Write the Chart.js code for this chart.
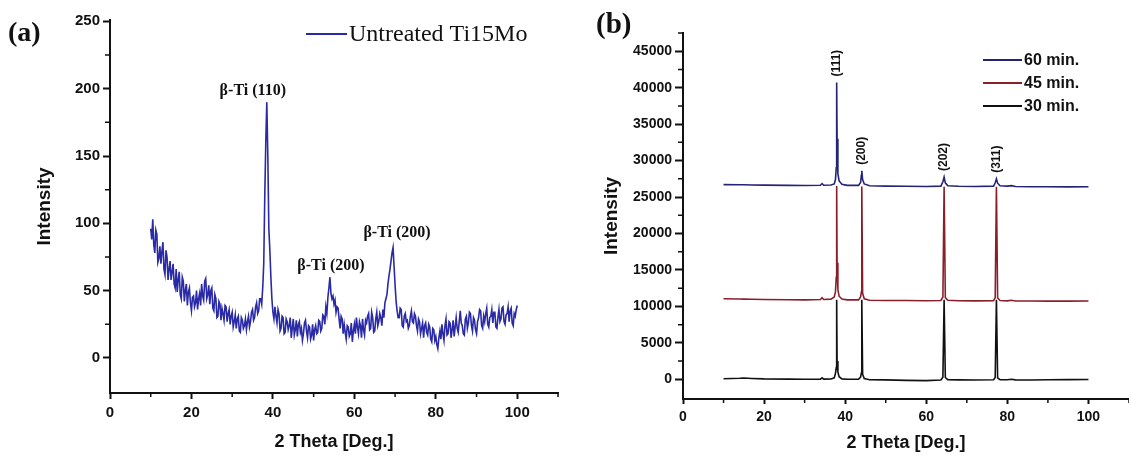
<!DOCTYPE html>
<html>
<head>
<meta charset="utf-8">
<title>XRD patterns of Ti15Mo</title>
<script src="https://cdn.jsdelivr.net/npm/chart.js@4.4.1/dist/chart.umd.min.js"></script>
<style>
  html, body { margin: 0; padding: 0; background: #fff; }
  #wrap { position: relative; width: 1129px; height: 459px; }
  #chartA { position: absolute; left: 0; top: 0; }
  #chartB { position: absolute; left: 565px; top: 0; }
</style>
</head>
<body>
<div id="wrap">
  <canvas id="chartA" width="565" height="459"></canvas>
  <canvas id="chartB" width="564" height="459"></canvas>
</div>
<script>
// ---- (a) untreated Ti15Mo, scanned every 0.25 deg ----
const anglesA = [
  10, 10.25, 10.5, 10.75, 11, 11.25, 11.5, 11.75, 12, 12.25, 12.5, 12.75, 13, 13.25, 13.5, 13.75, 14, 14.25, 14.5, 14.75,
  15, 15.25, 15.5, 15.75, 16, 16.25, 16.5, 16.75, 17, 17.25, 17.5, 17.75, 18, 18.25, 18.5, 18.75, 19, 19.25, 19.5, 19.75,
  20, 20.25, 20.5, 20.75, 21, 21.25, 21.5, 21.75, 22, 22.25, 22.5, 22.75, 23, 23.25, 23.5, 23.75, 24, 24.25, 24.5, 24.75,
  25, 25.25, 25.5, 25.75, 26, 26.25, 26.5, 26.75, 27, 27.25, 27.5, 27.75, 28, 28.25, 28.5, 28.75, 29, 29.25, 29.5, 29.75,
  30, 30.25, 30.5, 30.75, 31, 31.25, 31.5, 31.75, 32, 32.25, 32.5, 32.75, 33, 33.25, 33.5, 33.75, 34, 34.25, 34.5, 34.75,
  35, 35.25, 35.5, 35.75, 36, 36.25, 36.5, 36.75, 37, 37.25, 37.5, 37.75, 38, 38.25, 38.5, 38.75, 39, 39.25, 39.5, 39.75,
  40, 40.25, 40.5, 40.75, 41, 41.25, 41.5, 41.75, 42, 42.25, 42.5, 42.75, 43, 43.25, 43.5, 43.75, 44, 44.25, 44.5, 44.75,
  45, 45.25, 45.5, 45.75, 46, 46.25, 46.5, 46.75, 47, 47.25, 47.5, 47.75, 48, 48.25, 48.5, 48.75, 49, 49.25, 49.5, 49.75,
  50, 50.25, 50.5, 50.75, 51, 51.25, 51.5, 51.75, 52, 52.25, 52.5, 52.75, 53, 53.25, 53.5, 53.75, 54, 54.25, 54.5, 54.75,
  55, 55.25, 55.5, 55.75, 56, 56.25, 56.5, 56.75, 57, 57.25, 57.5, 57.75, 58, 58.25, 58.5, 58.75, 59, 59.25, 59.5, 59.75,
  60, 60.25, 60.5, 60.75, 61, 61.25, 61.5, 61.75, 62, 62.25, 62.5, 62.75, 63, 63.25, 63.5, 63.75, 64, 64.25, 64.5, 64.75,
  65, 65.25, 65.5, 65.75, 66, 66.25, 66.5, 66.75, 67, 67.25, 67.5, 67.75, 68, 68.25, 68.5, 68.75, 69, 69.25, 69.5, 69.75,
  70, 70.25, 70.5, 70.75, 71, 71.25, 71.5, 71.75, 72, 72.25, 72.5, 72.75, 73, 73.25, 73.5, 73.75, 74, 74.25, 74.5, 74.75,
  75, 75.25, 75.5, 75.75, 76, 76.25, 76.5, 76.75, 77, 77.25, 77.5, 77.75, 78, 78.25, 78.5, 78.75, 79, 79.25, 79.5, 79.75,
  80, 80.25, 80.5, 80.75, 81, 81.25, 81.5, 81.75, 82, 82.25, 82.5, 82.75, 83, 83.25, 83.5, 83.75, 84, 84.25, 84.5, 84.75,
  85, 85.25, 85.5, 85.75, 86, 86.25, 86.5, 86.75, 87, 87.25, 87.5, 87.75, 88, 88.25, 88.5, 88.75, 89, 89.25, 89.5, 89.75,
  90, 90.25, 90.5, 90.75, 91, 91.25, 91.5, 91.75, 92, 92.25, 92.5, 92.75, 93, 93.25, 93.5, 93.75, 94, 94.25, 94.5, 94.75,
  95, 95.25, 95.5, 95.75, 96, 96.25, 96.5, 96.75, 97, 97.25, 97.5, 97.75, 98, 98.25, 98.5, 98.75, 99, 99.25, 99.5, 99.75,
  100
];
const intensityA = [
  96, 88, 103, 84, 78, 95, 92, 71, 74, 83, 70, 79, 86, 66, 62, 80, 75, 58, 66, 72,
  58, 64, 70, 55, 52, 66, 49, 58, 64, 47, 44, 60, 57, 42, 50, 55, 39, 49, 52, 41,
  35, 45, 46, 38, 41, 50, 36, 44, 48, 39, 55, 46, 43, 57, 59, 44, 47, 54, 40, 50,
  52, 37, 35, 47, 44, 30, 31, 42, 40, 28, 37, 33, 28, 39, 38, 27, 33, 36, 25, 31,
  34, 23, 27, 32, 22, 29, 31, 20, 19, 30, 28, 22, 24, 29, 21, 27, 31, 23, 27, 34,
  36, 28, 30, 38, 41, 33, 35, 44, 44, 40, 52, 70, 120, 160, 190, 150, 96, 80, 60, 44,
  34, 29, 38, 31, 26, 36, 33, 20, 22, 31, 30, 18, 19, 29, 27, 21, 24, 30, 15, 22,
  29, 17, 21, 28, 16, 25, 27, 19, 22, 13, 18, 26, 28, 20, 15, 24, 23, 14, 17, 25,
  13, 21, 24, 18, 19, 28, 27, 20, 22, 32, 31, 25, 38, 33, 45, 52, 60, 48, 44, 46,
  40, 43, 34, 38, 37, 29, 22, 31, 29, 18, 25, 19, 14, 24, 23, 16, 18, 26, 12, 20,
  25, 18, 30, 23, 18, 27, 24, 15, 29, 21, 17, 28, 26, 31, 33, 21, 22, 34, 30, 19,
  20, 29, 34, 24, 27, 33, 30, 24, 36, 30, 41, 44, 47, 55, 61, 66, 72, 78, 82, 68,
  54, 42, 35, 30, 30, 37, 36, 24, 23, 31, 33, 27, 28, 22, 24, 31, 35, 27, 26, 33,
  31, 24, 20, 29, 27, 18, 22, 26, 15, 24, 26, 19, 17, 25, 23, 14, 12, 22, 21, 13,
  16, 10, 7, 15, 20, 14, 25, 18, 13, 24, 29, 17, 18, 27, 26, 15, 21, 28, 16, 23,
  30, 22, 19, 27, 35, 26, 24, 18, 17, 29, 31, 22, 26, 34, 33, 24, 20, 30, 28, 21,
  18, 27, 30, 36, 35, 24, 22, 31, 27, 33, 37, 25, 23, 30, 31, 36, 26, 34, 34, 23,
  22, 30, 36, 27, 29, 37, 38, 27, 25, 32, 33, 38, 27, 35, 37, 26, 24, 33, 31, 36,
  39
];
const seriesNameA = 'Untreated Ti15Mo';
const peakNamesA = ['β-Ti (110)', 'β-Ti (200)', 'β-Ti (200)'];
const peakAnglesA = [38.5, 54, 69.5];
const peakHeightsA = [190, 60, 82];
const yTicksA = [0, 50, 100, 150, 200, 250];

// ---- (b) treated samples, 60 / 45 / 30 min ----
const anglesB = [
  10, 14, 15, 17, 20, 26, 30, 33.9, 34.3, 34.7,
  36.5, 37.3, 37.6, 37.8, 37.9, 38.0, 38.2, 38.5, 39.2, 40.5,
  43.3, 43.8, 44.0, 44.1, 44.3, 44.7, 46, 50, 55, 60,
  63.6, 64.1, 64.4, 64.7, 65.3, 68, 72, 76.6, 77.0, 77.3,
  77.6, 78.2, 80, 81, 82, 86, 90, 95, 100
];
const int60 = [
  26700, 26680, 26690, 26660, 26640, 26600, 26580, 26620, 26850, 26620,
  26650, 26800, 27400, 29000, 40700, 33000, 28200, 27200, 26750, 26600,
  26600, 27000, 28000, 28600, 27400, 26800, 26550, 26500, 26480, 26450,
  26500, 27100, 27750, 26950, 26550, 26480, 26450, 26500, 26950, 27500,
  26900, 26550, 26500, 26560, 26450, 26420, 26420, 26400, 26420
];
const int45 = [
  11050, 11020, 11000, 10980, 10950, 10920, 10900, 10950, 11200, 10950,
  11000, 11300, 12000, 14000, 26500, 16000, 12300, 11400, 11000, 10900,
  10900, 11300, 12000, 26450, 11800, 11050, 10850, 10820, 10800, 10780,
  10820, 11300, 26400, 11200, 10850, 10780, 10760, 10780, 11200, 26400,
  11150, 10800, 10760, 10850, 10750, 10740, 10730, 10720, 10750
];
const int30 = [
  80, 150, 180, 120, 60, 20, 0, 30, 200, 30,
  50, 200, 800, 1600, 10900, 2500, 1000, 350, 60, 0,
  0, 300, 900, 10900, 700, 100, -50, -80, -150, -180,
  -100, 300, 10900, 250, -50, -80, -100, -60, 250, 10900,
  200, -40, -60, 0, -80, -100, -60, -40, -20
];
const seriesNamesB = ['60 min.', '45 min.', '30 min.'];
const peakNamesB = ['(111)', '(200)', '(202)', '(311)'];
const peakAnglesB = [37.9, 44.1, 64.4, 77.3];
const peakHeightsB = [40700, 28600, 27750, 27500];
const yTicksB = [0, 5000, 10000, 15000, 20000, 25000, 30000, 35000, 40000, 45000];

const xTicks = [0, 20, 40, 60, 80, 100];

const ink = '#111';
const sans = "'Liberation Sans', Arial, sans-serif";
const serif = "'Liberation Serif', 'Times New Roman', serif";
const colorsB = ['#232378', '#8a1f2c', '#111111'];

function points(xs, ys) {
  return xs.map((x, i) => ({ x: x, y: ys[i] }));
}

// short unlabelled ticks half way between the numbered ones
const minorTicks = {
  id: 'minorTicks',
  afterDraw(chart, args, opts) {
    const { ctx, scales: { x, y } } = chart;
    ctx.save();
    ctx.strokeStyle = ink;
    ctx.lineWidth = 1.5;
    ctx.beginPath();
    for (let v = opts.xFirst; v <= x.max; v += opts.xStep) {
      const px = x.getPixelForValue(v);
      ctx.moveTo(px, x.top);
      ctx.lineTo(px, x.top + 4);
    }
    for (let v = opts.yFirst; v <= y.max; v += opts.yStep) {
      const py = y.getPixelForValue(v);
      ctx.moveTo(y.right, py);
      ctx.lineTo(y.right - 5, py);
    }
    ctx.stroke();
    ctx.restore();
  }
};

// panel letter, legend and peak names for (a)
const decorA = {
  id: 'decorA',
  afterDraw(chart) {
    const { ctx, scales: { x, y } } = chart;
    const ds = chart.data.datasets[0];
    ctx.save();
    ctx.fillStyle = ink;
    ctx.textBaseline = 'middle';
    ctx.font = 'bold 28px ' + serif;
    ctx.fillText('(a)', 8, 34);

    ctx.strokeStyle = ds.borderColor;
    ctx.lineWidth = 2;
    ctx.beginPath();
    ctx.moveTo(306, 34);
    ctx.lineTo(347, 34);
    ctx.stroke();
    ctx.font = '24px ' + serif;
    ctx.fillText(ds.label, 349, 35);

    const shift = [-14, 1, 4];
    const lift = [3, 3, 7];
    ctx.font = 'bold 16px ' + serif;
    ctx.textAlign = 'center';
    ctx.textBaseline = 'bottom';
    peakNamesA.forEach((name, i) => {
      const px = x.getPixelForValue(peakAnglesA[i]) + shift[i];
      const py = y.getPixelForValue(peakHeightsA[i]) - lift[i];
      ctx.fillText(name, px, py);
    });
    ctx.restore();
  }
};

// panel letter, legend and rotated reflection indices for (b)
const decorB = {
  id: 'decorB',
  afterDraw(chart) {
    const { ctx, scales: { x, y } } = chart;
    ctx.save();
    ctx.fillStyle = ink;
    ctx.textBaseline = 'middle';
    ctx.font = 'bold 29px ' + serif;
    ctx.fillText('(b)', 31, 26);

    ctx.font = 'bold 16px ' + sans;
    chart.data.datasets.forEach((ds, i) => {
      const ly = 60 + i * 23;
      ctx.strokeStyle = ds.borderColor;
      ctx.lineWidth = 2;
      ctx.beginPath();
      ctx.moveTo(418, ly);
      ctx.lineTo(457, ly);
      ctx.stroke();
      ctx.fillText(ds.label, 459, ly + 1);
    });

    ctx.font = 'bold 12px ' + sans;
    ctx.textAlign = 'left';
    peakNamesB.forEach((name, i) => {
      const px = x.getPixelForValue(peakAnglesB[i]);
      const py = y.getPixelForValue(peakHeightsB[i]) - 6;
      ctx.save();
      ctx.translate(px, py);
      ctx.rotate(-Math.PI / 2);
      ctx.fillText(name, 0, 0);
      ctx.restore();
    });
    ctx.restore();
  }
};

function axes(o) {
  return {
    x: {
      type: 'linear',
      min: 0,
      max: 110,
      afterFit: s => { s.height = o.xHeight; },
      afterBuildTicks: s => { s.ticks = xTicks.map(v => ({ value: v })); },
      border: { display: true, color: ink, width: 2 },
      grid: { drawOnChartArea: false, drawTicks: true, tickLength: o.xTickLen, tickWidth: 2, tickColor: ink },
      ticks: { color: ink, padding: o.xPad, maxRotation: 0, autoSkip: false,
               callback: v => String(v),
               font: { family: sans, size: o.tickSize, weight: 'bold' } },
      title: { display: true, text: '2 Theta [Deg.]', color: ink,
               font: { family: sans, size: 18, weight: 'bold' }, padding: { top: 0, bottom: o.xTitlePad } }
    },
    y: {
      type: 'linear',
      min: o.yMin,
      max: o.yMax,
      afterFit: s => { s.width = o.yWidth; },
      afterBuildTicks: s => { s.ticks = o.yTicks.map(v => ({ value: v })); },
      border: { display: true, color: ink, width: 2 },
      grid: { drawOnChartArea: false, drawTicks: true, tickLength: o.yTickLen, tickWidth: 2, tickColor: ink },
      ticks: { color: ink, padding: o.yPad, autoSkip: false,
               callback: v => String(v),
               font: { family: sans, size: o.tickSize, weight: 'bold' } },
      title: { display: true, text: 'Intensity', color: ink,
               font: { family: sans, size: 19, weight: 'bold' }, padding: { top: o.yTitlePad, bottom: 0 } }
    }
  };
}

new Chart(document.getElementById('chartA'), {
  type: 'line',
  data: {
    datasets: [{
      label: seriesNameA,
      data: points(anglesA, intensityA),
      borderColor: '#2a2aa6',
      borderWidth: 1.6,
      pointRadius: 0,
      tension: 0
    }]
  },
  options: {
    responsive: false,
    animation: false,
    layout: { padding: { left: 0, top: 20, right: 7, bottom: 0 } },
    plugins: {
      legend: { display: false },
      tooltip: { enabled: false },
      minorTicks: { xFirst: 10, xStep: 20, yFirst: 25, yStep: 50 }
    },
    scales: axes({
      yMin: -26, yMax: 251, yTicks: yTicksA, yWidth: 110, xHeight: 66,
      tickSize: 15, xTickLen: 6, xPad: 5, yTickLen: 7, yPad: 3,
      xTitlePad: 6, yTitlePad: 33
    })
  },
  plugins: [minorTicks, decorA]
});

new Chart(document.getElementById('chartB'), {
  type: 'line',
  data: {
    datasets: [int60, int45, int30].map((vals, i) => ({
      label: seriesNamesB[i],
      data: points(anglesB, vals),
      borderColor: colorsB[i],
      borderWidth: 1.6,
      pointRadius: 0,
      tension: 0
    }))
  },
  options: {
    responsive: false,
    animation: false,
    layout: { padding: { left: 0, top: 33, right: 0, bottom: 0 } },
    plugins: {
      legend: { display: false },
      tooltip: { enabled: false },
      minorTicks: { xFirst: 10, xStep: 20, yFirst: 2500, yStep: 5000 }
    },
    scales: axes({
      yMin: -2700, yMax: 47500, yTicks: yTicksB, yWidth: 118, xHeight: 60,
      tickSize: 14, xTickLen: 5, xPad: 5, yTickLen: 8, yPad: 3,
      xTitlePad: 5, yTitlePad: 35
    })
  },
  plugins: [minorTicks, decorB]
});
</script>
</body>
</html>
